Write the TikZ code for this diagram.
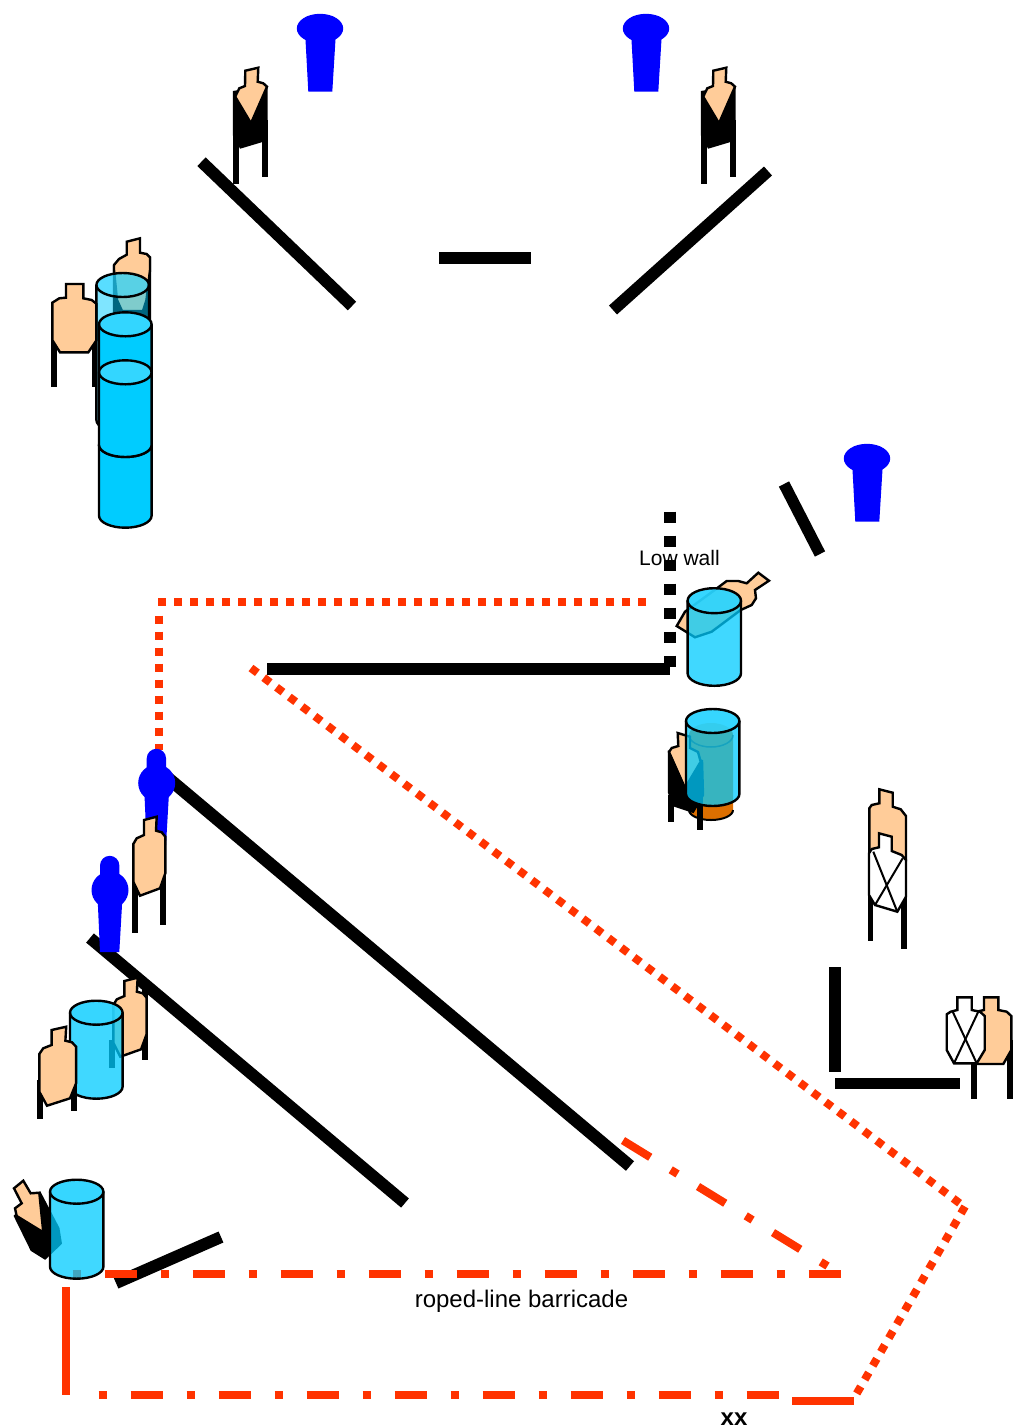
\documentclass[tikz,border=0pt]{standalone}
\usepackage{fontspec}
\setmainfont{Liberation Sans}
\definecolor{tan}{HTML}{FFCC99}
\definecolor{cyanbody}{HTML}{00CCFF}
\definecolor{cyantop}{HTML}{33D6FF}
\definecolor{rope}{HTML}{FF3300}
\definecolor{amber}{HTML}{DD6F00}
\tikzset{
  barrier/.style={draw=black,line width=#1},
  barrier/.default=12,
  reddots/.style={draw=rope,line width=8,dash pattern=on 8 off 8},
  reddash/.style={draw=rope,line width=8,dash pattern=on 32 off 24 on 8 off 24},
  reddot1/.style={draw=rope,line width=8,dash pattern=on 8 off 24 on 32 off 24},
  redsolid/.style={draw=rope,line width=8},
  skin/.style={fill=tan,draw=black,line width=2.4,line join=miter},
  blacksil/.style={fill=black,draw=black,line width=2.4},
  paper/.style={fill=white,draw=black,line width=2.4},
  thinx/.style={draw=black,line width=2},
  legbar/.style={fill=black},
  blueshape/.style={fill=blue},
  label/.style={inner sep=0,anchor=base,text=black}
}
% cx, top y, bottom y, rx, ry, opacity
\newcommand\cylinder[6]{%
  \fill[cyanbody,fill opacity=#6] (#1-#4,#2) -- (#1-#4,#3) arc[start angle=180,end angle=360,x radius=#4pt,y radius=#5pt] -- (#1+#4,#2) arc[start angle=0,end angle=180,x radius=#4pt,y radius=#5pt] -- cycle;
  \fill[cyantop,fill opacity=#6] (#1,#2) ellipse[x radius=#4pt,y radius=#5pt];
  \draw[black,line width=2.4] (#1-#4,#2) -- (#1-#4,#3) arc[start angle=180,end angle=360,x radius=#4pt,y radius=#5pt] -- (#1+#4,#2);
  \draw[black,line width=2.4] (#1,#2) ellipse[x radius=#4pt,y radius=#5pt];
}
\newcommand\legpair[8]{%
  \fill[legbar] (#1,#3) rectangle (#2,#4);
  \fill[legbar] (#5,#7) rectangle (#6,#8);
}
% skewed tan target, local origin
\newcommand\skewtan{%
  \path[skin] (10.7,3.3) -- (23.4,0) -- (22.7,14) -- (28.4,15.6) -- (32,20) -- (32,56.6) -- (26.7,71.6) -- (6.7,79) -- (0,65) -- (0,27.3) -- (3.4,21.6) -- (10.7,18.3) -- cycle;
}
% target seen from behind-side: drawn at top-left location
\newcommand\darktarget{%
  \fill[legbar] (232.7,130) rectangle (238.7,184);
  \fill[legbar] (261.5,120) rectangle (267.8,176.7);
  \path[blacksil] (234,92) -- (234,135) -- (240.7,147.3) -- (261.7,141) -- (266.5,127) -- (266.5,87) -- cycle;
  \path[skin] (245.3,70.7) -- (258.3,67.7) -- (257.7,81.7) -- (263.3,83.3) -- (267,86.7) -- (251,123.3) -- (235.2,96.7) -- (239.3,88.3) -- (245,86) -- cycle;
}
\newcommand\bluecap{%
  \path[blueshape] (320,28.5) ellipse[x radius=23.2pt,y radius=14.7pt];
  \path[blueshape] (305.3,36) -- (335.7,36) -- (332.3,91.7) -- (308.3,91.7) -- cycle;
}
\newcommand\bluebody{%
  \path[blueshape] (100,865.5) arc[start angle=180,end angle=0,x radius=9.7pt,y radius=9.7pt] -- (119.4,885) -- (100,885) -- cycle;
  \path[blueshape] (110,890) circle[radius=18.5pt];
  \path[blueshape] (97.7,900) -- (122.3,900) -- (119.3,952) -- (100,952) -- cycle;
}
\begin{document}
\begin{tikzpicture}[x=1pt,y=-1pt]
\useasboundingbox (0,0) rectangle (1020,1428);
\fill[white] (0,0) rectangle (1020,1428);

% barriers
\draw[barrier=12] (201.5,161.7) -- (352,306);
\draw[barrier=12] (439,257.5) -- (531,257.5);
\draw[barrier=12] (768,171) -- (613,310);
\draw[barrier=11.5] (784,484) -- (820,554);
\draw[barrier=12] (267,669) -- (670,669);
\draw[draw=black,line width=12,dash pattern=on 11.7 off 12.3] (670,511.7) -- (670,667);
\draw[barrier=12.5] (168,778) -- (630,1166);
\draw[barrier=12] (90,938) -- (405,1203);
\draw[barrier=12] (116,1283) -- (221,1237);
\draw[barrier=12] (835,967) -- (835,1072);
\draw[barrier=11.5] (835,1083.5) -- (960,1083.5);

% rope lines
\draw[reddots] (646,601.5) -- (158.3,601.5);
\draw[reddots] (158.5,615.7) -- (158.5,750);
\draw[reddots] (251,668) -- (961,1204.3);
\draw[reddots] (965,1206.5) -- (856,1394.7);
\draw[reddash] (623,1140.5) -- (827.5,1266);
\draw[reddot1] (72.7,1274) -- (841,1274);
\draw[redsolid] (65.7,1287.3) -- (65.7,1395.3);
\draw[reddot1] (98.7,1395) -- (778.7,1395);
\draw[redsolid] (792,1400.5) -- (854,1400.5);

% blue shapes
\bluecap
\begin{scope}[shift={(326,0)}]\bluecap\end{scope}
\begin{scope}[shift={(547,430)}]\bluecap\end{scope}
\begin{scope}[shift={(46.7,-107)}]\bluebody\end{scope}
\bluebody

% top targets
\darktarget
\begin{scope}[shift={(468,0)}]\darktarget\end{scope}

% left group
\path[blacksil] (114,266) -- (114,320) -- (150,320) -- (150,258) -- cycle;
\path[skin] (126.7,241.7) -- (140,238.3) -- (140,252.7) -- (146.7,254) -- (150,257.3) -- (150,270) -- (146.5,300) -- (143,311) -- (122,311) -- (117,300) -- (114,270) -- (114,265) -- (119,259) -- (126.7,254.7) -- cycle;
\legpair{51}{56.7}{335}{386.7}{92.3}{96.9}{335}{386.7}
\path[skin] (66,284) -- (83.3,284) -- (83.3,298.3) -- (91.7,300) -- (96.7,304) -- (96.7,340) -- (88.3,352.3) -- (60,352.3) -- (52.3,340) -- (52.3,302.7) -- (59.3,298.3) -- (66,297.7) -- cycle;
\cylinder{122.7}{285}{420}{26.3}{12}{0.5}
\cylinder{125.3}{324.3}{420}{26.3}{12}{1}
\cylinder{125.3}{445}{515.7}{26.3}{12}{1}
\cylinder{125.3}{372.3}{445}{26.3}{12}{1}

% low-wall target and cylinder
\path[skin] (758.3,572.7) -- (769,580.7) -- (755,590) -- (756,598.3) -- (751.7,605) -- (740.7,610) -- (711.7,631.7) -- (695,637.3) -- (676.7,626) -- (685,611.7) -- (718.3,587.3) -- (726.7,581) -- (738.3,581) -- (746.7,583.3) -- cycle;
\cylinder{714.3}{600.7}{673.3}{26.7}{12.5}{0.75}

% orange drum, target, cylinder
\fill[amber] (689,735) -- (689,810) arc[start angle=180,end angle=360,x radius=22pt,y radius=10pt] -- (733,735) arc[start angle=0,end angle=180,x radius=22pt,y radius=12pt] -- cycle;
\draw[black,line width=2] (689,810) arc[start angle=180,end angle=360,x radius=22pt,y radius=10pt];
\draw[black!60!amber,line width=1.5] (689,735) arc[start angle=180,end angle=360,x radius=22pt,y radius=12pt];
\legpair{668.3}{674}{795}{822}{697.3}{703.3}{795}{830}
\path[blacksil] (669,752) -- (669,792) -- (673,805) -- (693,811.7) -- (703,795) -- (702,761) -- cycle;
\path[skin] (677.7,733) -- (690,736.7) -- (690,748) -- (698,752) -- (700.7,761.7) -- (685,788) -- (669,752) -- (671.7,748) -- (678.3,746) -- cycle;
\cylinder{712.7}{721}{794}{26.7}{12}{0.75}

% crossed upright target
\path[skin] (879.3,789.3) -- (892.7,792.7) -- (892.7,806.7) -- (900.7,809.3) -- (906,816) -- (906,860) -- (869.3,855) -- (869.3,808.3) -- (871.7,805) -- (879.3,803.3) -- cycle;
\legpair{867.7}{873.3}{890}{941}{901.3}{907.3}{890}{949}
\path[paper] (879,833.3) -- (891.7,836.7) -- (891.7,851) -- (901.7,855) -- (906,860) -- (906,896.7) -- (897.3,911.7) -- (875,905) -- (869,895) -- (869,853.3) -- (871.7,849) -- (879,847.3) -- cycle;
\draw[thinx] (873.3,851.7) -- (897.3,911.7);
\draw[thinx] (902.7,858.3) -- (875,905);

% right crossed pair
\legpair{970.7}{976.7}{1050}{1099}{1006.7}{1012.7}{1040}{1099}
\path[skin] (984,997.3) -- (998.3,997.3) -- (998.3,1010) -- (1006.7,1011.7) -- (1011.3,1016) -- (1011.3,1050) -- (1003.3,1064) -- (976,1064) -- (970,1040) -- (975,1012) -- (984,1010) -- cycle;
\path[paper] (957.3,997.3) -- (971.7,997.3) -- (971.7,1010) -- (980,1011.7) -- (984.7,1016) -- (984.7,1050) -- (976.7,1063.3) -- (954,1063.3) -- (946.7,1050) -- (946.7,1014.3) -- (950.7,1011.7) -- (957.3,1010) -- cycle;
\draw[thinx] (952.7,1011.7) -- (976.7,1063.3);
\draw[thinx] (978.3,1011.7) -- (954,1063.3);

% skew targets on the left
\legpair{131.5}{137.5}{870}{933.3}{160}{166}{860}{925}
\begin{scope}[shift={(133.3,816.7)}]\skewtan\end{scope}
\legpair{109}{115}{1040}{1067.7}{142.3}{148}{990}{1060}
\begin{scope}[shift={(113.3,977.7)},xscale=1.04]\skewtan\end{scope}
\cylinder{96.3}{1012.7}{1086.7}{26.3}{12}{0.75}
\legpair{37.3}{43.3}{1080}{1119}{70.7}{76.7}{1080}{1110.7}
\begin{scope}[shift={(39.3,1026.7)},xscale=1.15]\skewtan\end{scope}

% fallen target and cylinder
\path[blacksil] (15,1216) -- (31.7,1250) -- (45,1258.3) -- (60.7,1243.3) -- (58.3,1228.3) -- (40,1193.3) -- cycle;
\path[skin] (14,1188.3) -- (23.3,1180.7) -- (30.7,1193.3) -- (39.3,1192.7) -- (43.3,1232.3) -- (16.7,1216) -- (15,1208.3) -- (21.7,1203.3) -- cycle;
\cylinder{76.7}{1191.7}{1266.7}{26.7}{12}{0.75}

% labels
\node[label,font=\fontsize{21}{21}\selectfont] (lowwall) at (679.5,565) {Low wall};
\node[label,font=\fontsize{24}{24}\selectfont] (roped) at (521.5,1307) {roped-line barricade};
\node[label,font=\fontsize{24}{24}\selectfont\bfseries] (xx) at (734,1425) {xx};
\end{tikzpicture}
\end{document}
